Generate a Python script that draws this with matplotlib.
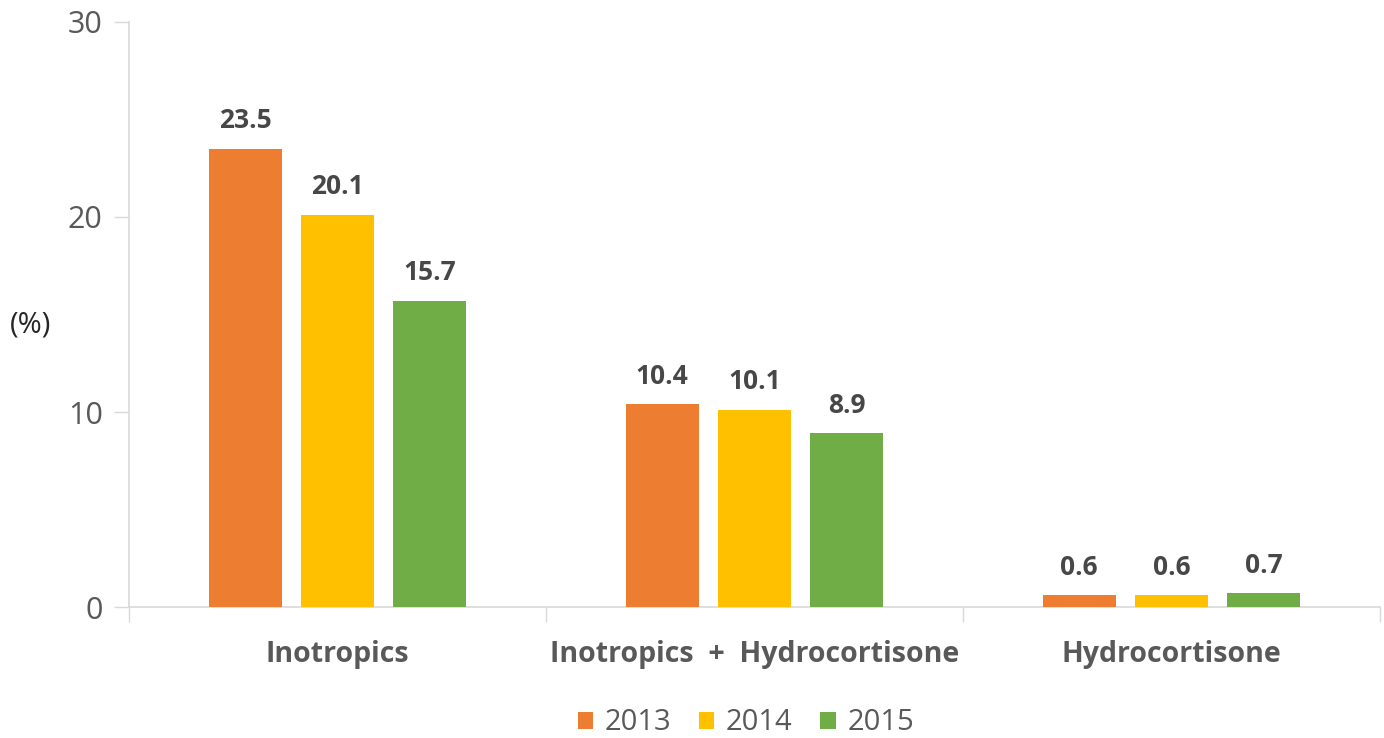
import matplotlib
matplotlib.use("Agg")
import matplotlib.pyplot as plt
import numpy as np

categories = ["Inotropics", "Inotropics  +  Hydrocortisone", "Hydrocortisone"]
years = ["2013", "2014", "2015"]
values_2013 = [23.5, 10.4, 0.6]
values_2014 = [20.1, 10.1, 0.6]
values_2015 = [15.7, 8.9, 0.7]
yticks = [0, 10, 20, 30]
colors = ["#ED7D31", "#FFC000", "#70AD47"]

plt.rcParams['font.family'] = ['Open Sans', 'DejaVu Sans']

fig = plt.figure(figsize=(13.84, 7.38), dpi=100)
ax = fig.add_axes([0.0932, 0.1775, 0.9038, 0.7927])

x = np.arange(len(categories))
width = 0.175
step = 0.221
series = [values_2013, values_2014, values_2015]
for i, (vals, yr, c) in enumerate(zip(series, years, colors)):
    pos = x + (i - 1) * step
    ax.bar(pos, vals, width=width, color=c, label=yr, zorder=3)
    for p, v in zip(pos, vals):
        ax.text(p, v + 0.75, f"{v}", ha="center", va="bottom", fontsize=19,
                fontweight="bold", color="#474747")

ax.set_xlim(-0.5, 2.5)
ax.set_ylim(0, 30)
ax.set_yticks(yticks)
ax.set_yticklabels([str(t) for t in yticks], fontsize=22, color="#595959")
ax.tick_params(axis="y", length=11, width=1, color="#d9d9d9", pad=8)

# category labels
ax.set_xticks(x)
ax.set_xticklabels(categories, fontsize=20.5, fontweight="bold", color="#595959")
ax.tick_params(axis="x", length=0, pad=24)
# separator ticks
ax.set_xticks([-0.5, 0.5, 1.5, 2.5], minor=True)
ax.tick_params(axis="x", which="minor", length=11, width=1, color="#d9d9d9")

for s in ["top", "right"]:
    ax.spines[s].set_visible(False)
for s in ["left", "bottom"]:
    ax.spines[s].set_color("#d9d9d9")
    ax.spines[s].set_linewidth(1.2)

fig.text(10 / 1384, 1 - 325 / 738, "(%)", fontsize=21, color="#262626",
         ha="left", va="center")

leg = fig.legend(loc="center", bbox_to_anchor=(746 / 1384, 1 - 723 / 738), ncol=3,
                 frameon=False, fontsize=21, handlelength=0.52, handleheight=0.52,
                 handletextpad=0.4, columnspacing=0.95)
for t in leg.get_texts():
    t.set_color("#595959")

fig.savefig("out.png", dpi=100)
